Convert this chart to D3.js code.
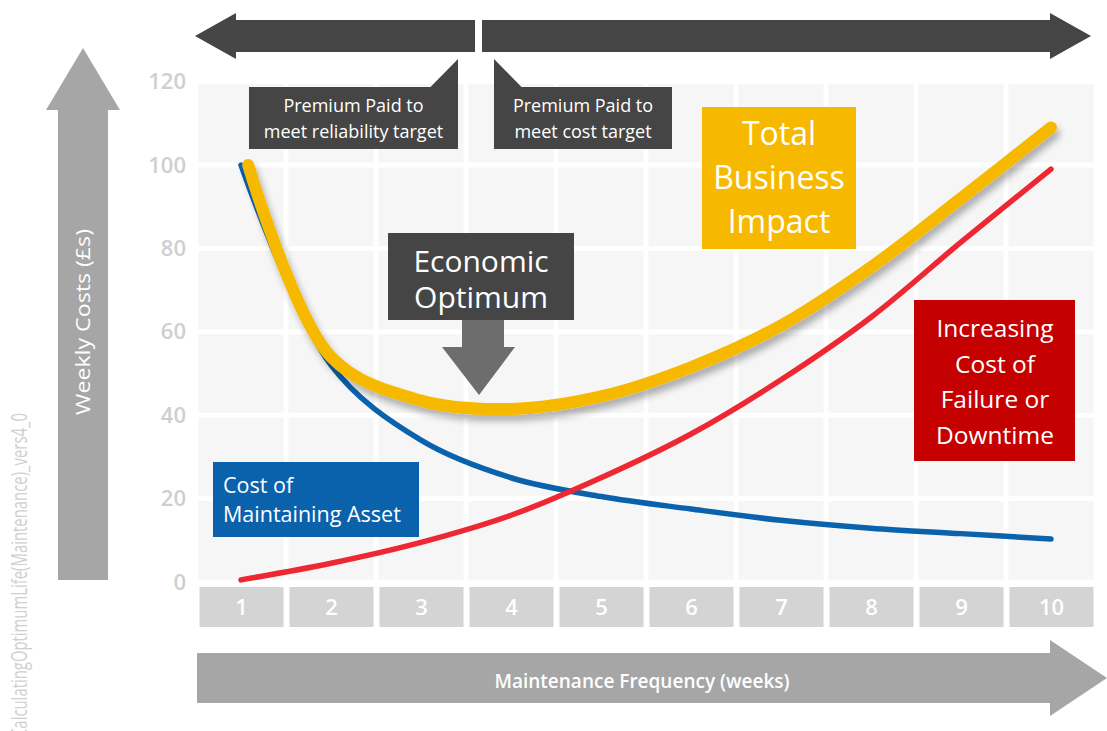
<!DOCTYPE html>
<html>
<head>
<meta charset="utf-8">
<script src="https://cdn.jsdelivr.net/npm/d3@7"></script>
<style>
body { margin: 0; background: #fff; }
svg { display: block; }
text { font-family: "Open Sans", sans-serif; }
</style>
</head>
<body>
<svg id="mainSvg" width="1107" height="731"></svg>
<script>
// values
var weeks = [1, 2, 3, 4, 5, 6, 7, 8, 9, 10];
var yTicks = [0, 20, 40, 60, 80, 100, 120];
var maintainCost = [100, 52, 34, 25, 20.5, 17.5, 14.8, 12.9, 11.6, 10.3];
var failureCost = [0.5, 4.5, 9.5, 16, 25, 35.5, 48.5, 63.5, 81.5, 99];
var totalWeeks = [1.08, 2, 3, 4, 5, 6, 7, 8, 9, 10];
var totalCost = [100, 54, 43.5, 41.5, 44.5, 51.5, 61.5, 75.5, 92, 109];

var mainSvg = d3.select("#mainSvg");
var x = d3.scaleLinear().domain([1, 10]).range([241, 1051]);
var y = d3.scaleLinear().domain([0, 120]).range([582, 81.6]);
var colStep = x(2) - x(1);

var defs = mainSvg.append("defs");
var f = defs.append("filter").attr("id", "shadow").attr("x", "-10%").attr("y", "-10%").attr("width", "130%").attr("height", "130%");
f.append("feGaussianBlur").attr("in", "SourceAlpha").attr("stdDeviation", 3.5);
f.append("feOffset").attr("dx", 3).attr("dy", 6).attr("result", "off");
f.append("feComponentTransfer").append("feFuncA").attr("type", "linear").attr("slope", 0.3);
var fm = f.append("feMerge");
fm.append("feMergeNode");
fm.append("feMergeNode").attr("in", "SourceGraphic");

// watermark
mainSvg.append("text").attr("transform", "translate(27,738) rotate(-90)")
	.attr("font-family", "Liberation Sans Narrow, Liberation Sans, sans-serif")
	.attr("font-size", "22px").attr("fill", "#d0d0d0")
	.attr("textLength", 325).attr("lengthAdjust", "spacingAndGlyphs")
	.text("CalculatingOptimumLife(Maintenance)_vers4_0");

// big arrows
mainSvg.append("path").attr("d", "M83,48 L120,110 H108 V580 H58 V110 H46 Z").attr("fill", "#a6a6a6");
mainSvg.append("text").attr("transform", "translate(90,322) rotate(-90)").attr("text-anchor", "middle")
	.attr("font-family", "Liberation Sans Narrow, Liberation Sans, sans-serif")
	.attr("font-size", "20px").attr("fill", "#fff")
	.attr("textLength", 186).attr("lengthAdjust", "spacingAndGlyphs")
	.text("Weekly Costs (£s)");

mainSvg.append("path").attr("d", "M197,653 H1050 V640 L1107,678 L1050,716 V703 H197 Z").attr("fill", "#a6a6a6");
mainSvg.append("text").attr("x", 642).attr("y", 688).attr("text-anchor", "middle")
	.attr("font-size", "19px").attr("font-weight", 600).attr("fill", "#fff").text("Maintenance Frequency (weeks)");

mainSvg.append("path").attr("d", "M195,36 L236,13 V20 H475 V52 H236 V59 Z").attr("fill", "#454545");
mainSvg.append("path").attr("d", "M482,20 H1050 V13 L1091,36 L1050,59 V52 H482 Z").attr("fill", "#454545");

// grid cells
var cells = [];
weeks.forEach(function(w) {
	for(var j = 0; j < yTicks.length - 1; j++)
		cells.push({w: w, lo: yTicks[j], hi: yTicks[j + 1]});
});
mainSvg.append("g").selectAll("rect").data(cells).enter().append("rect")
	.attr("x", function(d) { return x(d.w) - colStep / 2 + 2.5; })
	.attr("y", function(d) { return y(d.hi) + 2.5; })
	.attr("width", colStep - 5)
	.attr("height", function(d) { return y(d.lo) - y(d.hi) - 5; })
	.attr("fill", "#f6f6f6");

// y axis
var yAxis = mainSvg.append("g").attr("transform", "translate(197,0)")
	.call(d3.axisLeft(y).tickValues(yTicks).tickSize(0).tickPadding(11));
yAxis.select(".domain").remove();
yAxis.selectAll("text").attr("font-family", "Open Sans").attr("font-size", "22px")
	.attr("font-weight", 600).attr("fill", "#cfcfcf");

// x axis as boxes
var xAxis = mainSvg.append("g").attr("transform", "translate(0,587)")
	.call(d3.axisBottom(x).tickValues(weeks).tickSize(0).tickFormat(d3.format("d")));
xAxis.select(".domain").remove();
xAxis.selectAll(".tick").insert("rect", "text").attr("x", -42).attr("y", 0).attr("width", 84).attr("height", 40).attr("fill", "#d4d4d4");
xAxis.selectAll("text").attr("y", 20).attr("dy", "0.36em").attr("font-family", "Open Sans")
	.attr("font-size", "22px").attr("font-weight", 600).attr("fill", "#fff");

// curves
var line = d3.line().x(function(d) { return x(d[0]); }).y(function(d) { return y(d[1]); }).curve(d3.curveCatmullRom.alpha(0.5));
var series = [
	{pts: d3.zip(weeks, maintainCost), col: "#0a62ad", w: 5.5, shadow: false},
	{pts: d3.zip(weeks, failureCost), col: "#ee2833", w: 5.5, shadow: false},
	{pts: d3.zip(totalWeeks, totalCost), col: "#f6b900", w: 12, shadow: true}
];
series.forEach(function(s) {
	mainSvg.append("path").datum(s.pts).attr("d", line).attr("fill", "none")
		.attr("stroke", s.col).attr("stroke-width", s.w).attr("stroke-linecap", "round")
		.attr("filter", s.shadow ? "url(#shadow)" : null);
});

// annotation boxes
function labelBox(x0, y0, w, h, fill, lines, size, anchor, tx, firstY, lh)
{
	var g = mainSvg.append("g");
	g.append("rect").attr("x", x0).attr("y", y0).attr("width", w).attr("height", h).attr("fill", fill);
	g.selectAll("text").data(lines).enter().append("text")
		.attr("x", tx).attr("y", function(d, i) { return firstY + i * lh; })
		.attr("text-anchor", anchor).attr("font-size", size + "px").attr("fill", "#fff")
		.text(function(d) { return d; });
	return g;
}

labelBox(249, 87, 209, 62, "#454545", ["Premium Paid to", "meet reliability target"], 18, "middle", 353.5, 112, 26);
mainSvg.append("path").attr("d", "M430,87.5 L458,59 V87.5 Z").attr("fill", "#454545");
labelBox(494, 87, 178, 62, "#454545", ["Premium Paid to", "meet cost target"], 18, "middle", 583, 112, 26);
mainSvg.append("path").attr("d", "M494,87.5 V59 L522,87.5 Z").attr("fill", "#454545");

labelBox(702, 107, 154, 142, "#f6b900", ["Total", "Business", "Impact"], 32, "middle", 779, 145, 44);

labelBox(388, 233, 186, 87, "#454545", ["Economic", "Optimum"], 30, "middle", 481, 272, 36);
mainSvg.append("path").attr("d", "M462,320 H504 V347 H515 L479,395 L442,347 H462 Z").attr("fill", "#6d6d6d");

labelBox(213, 462, 206, 75, "#0a62ad", ["Cost of", "Maintaining Asset"], 21.5, "start", 223, 493, 29);

labelBox(914, 300, 161, 161, "#c40000", ["Increasing", "Cost of", "Failure or", "Downtime"], 24.5, "middle", 995, 337, 35.5);
</script>
</body>
</html>
